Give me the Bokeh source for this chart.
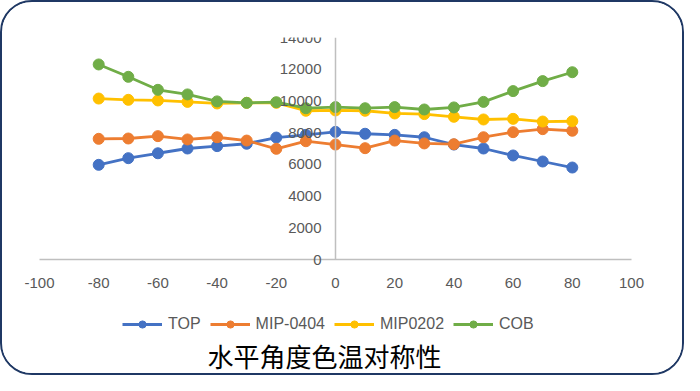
from bokeh.plotting import figure
from bokeh.models import FixedTicker, Legend, LegendItem, Label, Range1d, PrintfTickFormatter
from bokeh.embed import file_html
from bokeh.resources import INLINE

angles = [-80, -70, -60, -50, -40, -30, -20, -10, 0, 10, 20, 30, 40, 50, 60, 70, 80]
top = [5970, 6390, 6700, 7000, 7150, 7300, 7690, 7860, 8050, 7930, 7860, 7710, 7250, 7000, 6560, 6180, 5800]
mip0404 = [7610, 7630, 7780, 7570, 7710, 7500, 6980, 7460, 7250, 7020, 7500, 7320, 7270, 7710, 8030, 8220, 8120]
mip0202 = [10150, 10070, 10030, 9940, 9840, 9880, 9880, 9380, 9400, 9380, 9210, 9170, 9000, 8830, 8870, 8700, 8720]
cob = [12300, 11520, 10700, 10410, 9970, 9880, 9920, 9540, 9610, 9540, 9610, 9460, 9590, 9940, 10620, 11250, 11810]
series_names = ["TOP", "MIP-0404", "MIP0202", "COB"]
colors = ["#4472C4", "#ED7D31", "#FFC000", "#70AD47"]
x_ticks = [-100, -80, -60, -40, -20, 0, 20, 40, 60, 80, 100]
y_ticks = [0, 2000, 4000, 6000, 8000, 10000, 12000, 14000]
x_min, x_max = -100, 100
y_max = 14000
title_text = "水平角度色温对称性"

W, H = 684, 375
b_left, b_right, b_top, b_bottom = 5, 5, 35, 2
frame_w = W - b_left - b_right
frame_h = H - b_top - b_bottom
# pixel band used by the value axes inside the frame
band_left, band_w = 32, 592
band_h = 222
px_x = (x_max - x_min) / band_w
x_start = x_min - band_left * px_x
x_end = x_max + (frame_w - band_left - band_w) * px_x
y_start = -y_max * (frame_h - band_h) / band_h

p = figure(width=W, height=H, output_backend="svg", toolbar_location=None,
           x_range=Range1d(x_start, x_end), y_range=Range1d(y_start, y_max),
           min_border_left=b_left, min_border_right=b_right,
           min_border_top=b_top, min_border_bottom=b_bottom)
p.outline_line_color = None
p.xgrid.visible = False
p.ygrid.visible = False
p.styles = {"border": "2px solid #1F3864", "border-radius": "32px", "overflow": "hidden",
            "box-sizing": "border-box"}

font = "Liberation Sans"
for ax in (p.xaxis[0], p.yaxis[0]):
    ax.axis_line_color = "#BFBFBF"
    ax.axis_line_width = 1.5
    ax.major_tick_line_color = None
    ax.minor_tick_line_color = None
    ax.major_label_text_font = font
    ax.major_label_text_font_size = "15px"
    ax.major_label_text_color = "#595959"
    ax.formatter = PrintfTickFormatter(format="%d")
p.xaxis.ticker = FixedTicker(ticks=x_ticks)
p.yaxis.ticker = FixedTicker(ticks=y_ticks)
p.xaxis.fixed_location = 0
p.yaxis.fixed_location = 0
p.xaxis.bounds = (x_min, x_max)
p.yaxis.bounds = (0, y_max)
p.xaxis.major_label_standoff = 12
p.yaxis.major_label_standoff = 8

data = [top, mip0404, mip0202, cob]
items = []
for name, vals, c in zip(series_names, data, colors):
    l = p.line(angles, vals, line_color=c, line_width=2.8)
    s = p.scatter(angles, vals, size=11, fill_color=c, line_color=c)
    items.append(LegendItem(label=name, renderers=[l, s]))

leg = Legend(items=items, orientation="horizontal", location=(115, 42),
             glyph_width=40, glyph_height=18, label_standoff=6, spacing=9,
             padding=0, margin=0, border_line_color=None, background_fill_alpha=0,
             label_text_font=font, label_text_font_size="16px", label_text_color="#595959")
p.add_layout(leg, "center")

t = Label(x=317, y=20, x_units="screen", y_units="screen", text=title_text,
          text_font="Noto Sans CJK SC", text_font_size="26px", text_color="#000000",
          text_align="center", text_baseline="middle")
p.add_layout(t)

open("out.html", "w").write(file_html(p, INLINE))
